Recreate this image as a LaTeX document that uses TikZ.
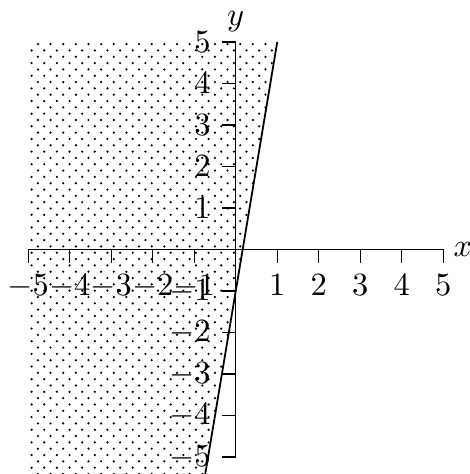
\documentclass[tikz,border=0pt]{standalone}
\usetikzlibrary{patterns}
\pgfdeclarepatternformonly{sparsedots}{\pgfqpoint{-1pt}{-1pt}}{\pgfqpoint{5pt}{5pt}}{\pgfqpoint{3.9pt}{3.9pt}}%
{
  \pgfpathcircle{\pgfqpoint{0pt}{0pt}}{.38pt}
  \pgfpathcircle{\pgfqpoint{1.95pt}{1.95pt}}{.38pt}
  \pgfusepath{fill}
}
\begin{document}
\begin{tikzpicture}[x=0.45cm,y=0.45cm,
  axisline/.style={line width=0.4pt},
  tickmark/.style={line width=0.4pt},
  graphline/.style={line width=0.55pt},
  region/.style={pattern=sparsedots, pattern color=black}]
\useasboundingbox (-5.68,-5.41) rectangle (5.64,6.01);
\begin{scope}
  \clip (-5.68,-5.41) rectangle (5.64,6.01);
  \fill[region] (-5,5) -- (1,5) -- (-0.75,-5.5) -- (-5,-5.5) -- cycle;
  \coordinate (ltop) at (1,5);
  \coordinate (lbot) at (-0.75,-5.5);
  \draw[graphline] (ltop) -- (lbot);
\end{scope}
% axes
\coordinate (xl) at (-5,0);
\coordinate (xr) at (5,0);
\coordinate (yb) at (0,-5);
\coordinate (yt) at (0,5);
\draw[axisline] (xl) -- (xr);
\draw[axisline] (yb) -- (yt);
\node[right, inner sep=3pt] (xlabel) at (xr) {$x$};
\node[above, inner sep=3pt] (ylabel) at (yt) {$y$};
% ticks
\foreach \i [count=\k] in {-5,-4,-3,-2,-1,1,2,3,4,5} {
  \coordinate (xa\k) at (\i,0);
  \coordinate (xb\k) at ([yshift=-0.15cm]xa\k);
  \draw[tickmark] (xa\k) -- (xb\k);
  \node[below] (xt\k) at (xb\k) {$\i$};
  \coordinate (ya\k) at (0,\i);
  \coordinate (yb\k) at ([xshift=-0.15cm]ya\k);
  \draw[tickmark] (ya\k) -- (yb\k);
  \node[left] (yt\k) at (yb\k) {$\i$};
}
\end{tikzpicture}
\end{document}
